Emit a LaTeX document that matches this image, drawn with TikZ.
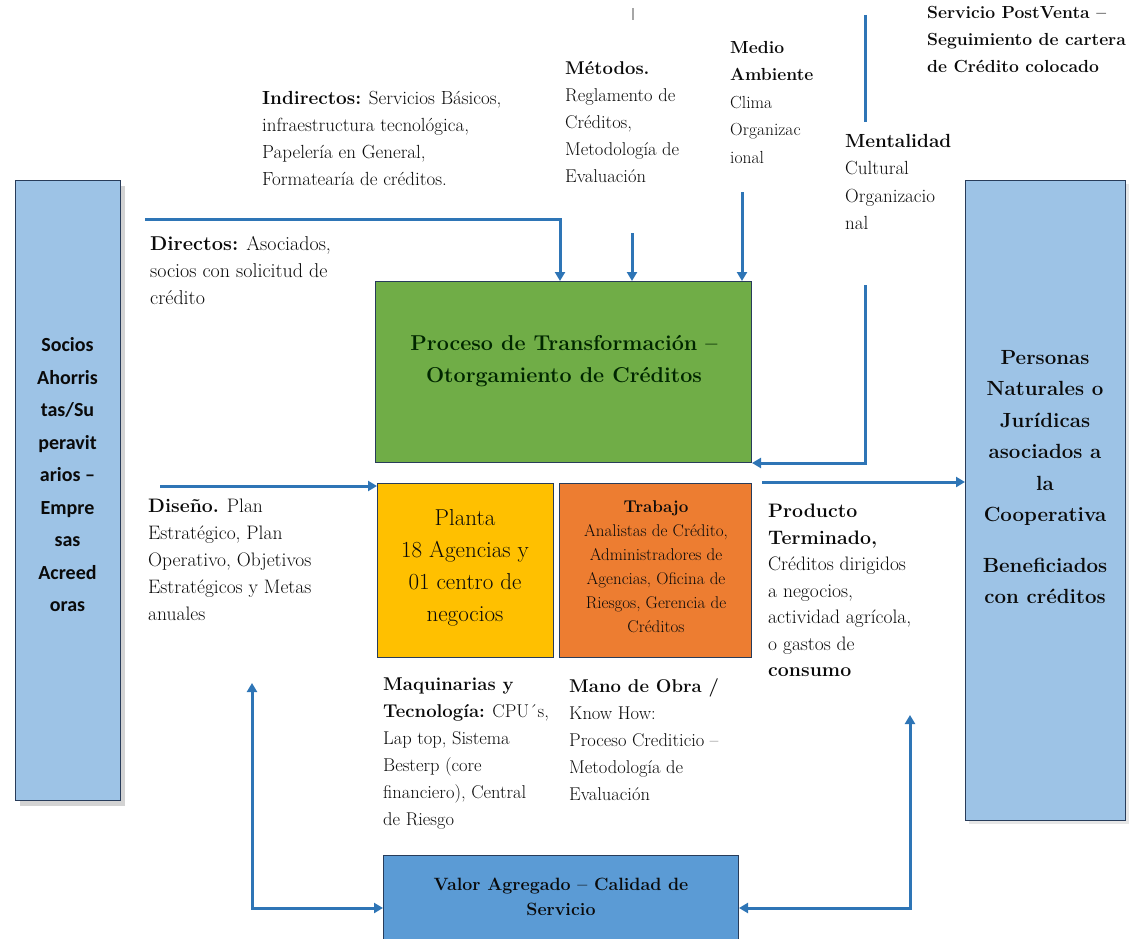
\documentclass[tikz,border=0pt]{standalone}
\usepackage{fontspec}
\newfontfamily\calfont{Carlito}
\usetikzlibrary{arrows.meta,shadows}
\definecolor{arrowblue}{RGB}{46,117,182}
\definecolor{boxedge}{RGB}{40,60,90}
\definecolor{sideblue}{RGB}{157,195,230}
\definecolor{procgreen}{RGB}{112,173,71}
\definecolor{plantyellow}{RGB}{255,192,0}
\definecolor{workorange}{RGB}{237,125,49}
\definecolor{valueblue}{RGB}{91,155,213}
\definecolor{txtdark}{RGB}{10,10,10}
\begin{document}
\begin{tikzpicture}[x=1pt,y=-1pt,
  box/.style={draw=boxedge, line width=1pt, inner sep=0pt, anchor=north west},
  lbl/.style={anchor=north west, inner sep=0pt, align=left, text=txtdark,
              font=\rmfamily\fontsize{18.5}{27}\selectfont},
  conn/.style={draw=arrowblue, line width=3pt, line join=miter,
               -{Triangle[length=9pt,width=10pt]}},
  conn2/.style={draw=arrowblue, line width=3pt, line join=miter,
               {Triangle[length=9pt,width=10pt]}-{Triangle[length=9pt,width=10pt]}},
  plain/.style={draw=arrowblue, line width=3pt}
]
\useasboundingbox (0,0) rectangle (1129,939);

% boxes
\node[box, fill=sideblue, minimum width=105pt, minimum height=620pt,
      drop shadow={shadow xshift=4pt, shadow yshift=-5pt, opacity=0.35}] (leftbox) at (15,180) {};
\node[box, fill=sideblue, minimum width=160pt, minimum height=640pt,
      drop shadow={shadow xshift=3pt, shadow yshift=-3pt, opacity=0.2}] (rightbox) at (965,180) {};
\node[box, fill=procgreen, minimum width=376pt, minimum height=181pt] (green) at (375,281) {};
\node[box, fill=plantyellow, minimum width=176pt, minimum height=174pt] (yellow) at (377,483) {};
\node[box, fill=workorange, minimum width=192pt, minimum height=174pt] (orange) at (559,483) {};
\node[box, fill=valueblue, minimum width=355pt, minimum height=105pt] (blue) at (383,855) {};

% box texts
\node[align=center, inner sep=0pt, text=txtdark, font=\calfont\bfseries\fontsize{20}{32.5}\selectfont]
  (lefttxt) at (67.5,475) {Socios\\Ahorris\\tas/Su\\peravit\\arios –\\Empre\\sas\\Acreed\\oras};
\node[align=center, inner sep=0pt, text=txtdark, font=\rmfamily\bfseries\fontsize{20.5}{31.5}\selectfont]
  (righttxt) at (1045,477) {Personas\\Naturales o\\Jurídicas\\asociados a\\la\\Cooperativa\\[19pt]Beneficiados\\con créditos};
\node[align=center, inner sep=0pt, text=black!85!green, font=\rmfamily\bfseries\fontsize{21.5}{32}\selectfont]
  (greentxt) at (564,361) {Proceso de Transformación –\\Otorgamiento de Créditos};
\node[align=center, inner sep=0pt, text=txtdark, font=\rmfamily\fontsize{23}{32}\selectfont]
  (yellowtxt) at (465,568) {Planta\\18 Agencias y\\01 centro de\\negocios};
\node[align=center, inner sep=0pt, text=txtdark, font=\rmfamily\fontsize{17}{24}\selectfont]
  (orangetxt) at (656,567) {\textbf{Trabajo}\\Analistas de Crédito,\\Administradores de\\Agencias, Oficina de\\Riesgos, Gerencia de\\Créditos};
\node[align=center, inner sep=0pt, text=txtdark, font=\rmfamily\bfseries\fontsize{17.8}{25}\selectfont]
  (bluetxt) at (561,897) {Valor Agregado – Calidad de\\Servicio};

% free labels
\node[lbl, font=\rmfamily\fontsize{19}{27}\selectfont] (indir) at (262,91) {\textbf{Indirectos:} Servicios Básicos,\\infraestructura tecnológica,\\Papelería en General,\\Formatearía de créditos.};
\node[lbl, font=\rmfamily\fontsize{20}{27}\selectfont] (direc) at (150,236) {\textbf{Directos:} Asociados,\\socios con solicitud de\\crédito};
\node[lbl] (metod) at (565,61) {\textbf{Métodos.}\\Reglamento de\\Créditos,\\Metodología de\\Evaluación};
\node[lbl, font=\rmfamily\fontsize{17.5}{27.5}\selectfont] (medio) at (730,41) {\textbf{Medio}\\\textbf{Ambiente}\\Clima\\Organizac\\ional};
\node[lbl, font=\rmfamily\fontsize{19}{27.5}\selectfont] (mental) at (845,134) {\textbf{Mentalidad}\\Cultural\\Organizacio\\nal};
\node[lbl, font=\rmfamily\bfseries\fontsize{17.5}{27}\selectfont] (postv) at (927,6) {Servicio PostVenta –\\Seguimiento de cartera\\de Crédito colocado};
\node[lbl, font=\rmfamily\fontsize{19.5}{27}\selectfont] (disen) at (148,499) {\textbf{Diseño.} Plan\\Estratégico, Plan\\Operativo, Objetivos\\Estratégicos y Metas\\anuales};
\node[lbl, font=\rmfamily\fontsize{19.5}{26.5}\selectfont] (produ) at (768,504) {\textbf{Producto}\\\textbf{Terminado,}\\Créditos dirigidos\\a negocios,\\actividad agrícola,\\o gastos de\\\textbf{consumo}};
\node[lbl] (maqui) at (383,678) {\textbf{Maquinarias y}\\\textbf{Tecnología:} CPU´s,\\Lap top, Sistema\\Besterp (core\\financiero), Central\\de Riesgo};
\node[lbl] (manoo) at (569,678) {\textbf{Mano de Obra /}\\Know How:\\Proceso Crediticio –\\Metodología de\\Evaluación};

% connector end points
\coordinate (indS) at (145,219);
\coordinate (metS) at (632,233);
\coordinate (medS) at (742,192);
\coordinate (mentS) at (865,285);
\coordinate (topA) at (865,15);
\coordinate (topB) at (865,122);
\coordinate (tickA) at (633,8);
\coordinate (tickB) at (633,20);
\coordinate (disS) at (160,486);
\coordinate (outS) at (762,482);
\coordinate (loopL) at (252,683);
\coordinate (loopR) at (910,715);

% connectors
\draw[conn] (indS) -| ([xshift=185pt]green.north west);
\draw[conn] (metS) -- (metS |- green.north);
\draw[conn] (medS) -- (medS |- green.north);
\draw[conn] (mentS) |- (green.south east);
\draw[plain] (topA) -- (topB);
\draw[draw=gray!70, line width=2pt] (tickA) -- (tickB);
\draw[conn] (disS) -- (disS -| yellow.west);
\draw[conn] (outS) -- (outS -| rightbox.west);
\draw[conn2] (loopL) |- (blue.west);
\draw[conn2] (loopR) |- (blue.east);
\end{tikzpicture}
\end{document}
